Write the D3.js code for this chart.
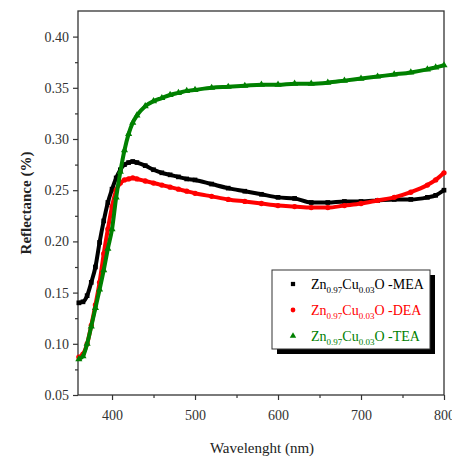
<!DOCTYPE html>
<html>
<head>
<meta charset="utf-8">
<script src="https://cdn.jsdelivr.net/npm/d3@7"></script>
<style>
  body { margin: 0; background: #fff; }
  svg text { font-family: "Liberation Serif", "Times New Roman", Times, "DejaVu Serif", serif; }
</style>
</head>
<body>
<div id="chart"></div>
<script>
// reflectance spectra
var wavelengths = [360,365,370,375,380,385,390,395,400,405,410,415,420,425,430,440,450,460,470,480,490,500,520,540,560,580,600,620,640,660,680,700,720,740,760,780,790,800];
var mea = [0.140,0.141,0.147,0.160,0.175,0.199,0.220,0.238,0.251,0.262,0.270,0.275,0.277,0.278,0.277,0.274,0.270,0.267,0.265,0.263,0.261,0.260,0.256,0.252,0.249,0.246,0.243,0.242,0.238,0.238,0.239,0.239,0.240,0.241,0.241,0.243,0.245,0.250];
var dea = [0.087,0.090,0.100,0.118,0.138,0.160,0.188,0.212,0.234,0.250,0.257,0.260,0.261,0.262,0.261,0.259,0.257,0.255,0.253,0.251,0.249,0.247,0.244,0.241,0.239,0.237,0.235,0.234,0.233,0.233,0.235,0.237,0.240,0.243,0.248,0.255,0.260,0.267];
var tea = [0.085,0.088,0.100,0.117,0.135,0.153,0.172,0.193,0.212,0.243,0.268,0.289,0.305,0.316,0.323,0.332,0.337,0.340,0.343,0.345,0.347,0.348,0.350,0.351,0.352,0.353,0.353,0.354,0.354,0.355,0.357,0.359,0.361,0.363,0.365,0.368,0.370,0.372];
var seriesNames = ["MEA", "DEA", "TEA"];
var seriesColors = ["#000000", "#ff0000", "#008000"];
var yTicks = [0.05,0.10,0.15,0.20,0.25,0.30,0.35,0.40];
var xTicks = [400,500,600,700,800];

var width = 452, height = 459;
var margin = {top: 11, right: 8, bottom: 64, left: 78};
var serif = 'Liberation Serif';

var svg = d3.select('#chart').append('svg')
  .attr('width', width)
  .attr('height', height);

var x = d3.scaleLinear().domain([359, 800]).range([margin.left, width - margin.right]);
var y = d3.scaleLinear().domain([0.05, 0.425]).range([height - margin.bottom, margin.top]);

var axisColor = '#333';

// frame
svg.append('rect')
  .attr('x', x(359)).attr('y', y(0.425))
  .attr('width', x(800) - x(359))
  .attr('height', y(0.05) - y(0.425))
  .attr('fill', 'none')
  .attr('stroke', axisColor)
  .attr('stroke-width', 1.3);

// x axis, minor + major ticks
var xAxisG = svg.append('g')
  .attr('transform', 'translate(0,' + y(0.05) + ')');
xAxisG.call(d3.axisBottom(x).tickValues([450,550,650,750]).tickSize(3).tickFormat(''));
xAxisG.append('g').call(d3.axisBottom(x).tickValues(xTicks).tickSize(5).tickPadding(10).tickFormat(d3.format('d')));

var yAxisG = svg.append('g')
  .attr('transform', 'translate(' + x(359) + ',0)');
yAxisG.call(d3.axisLeft(y).tickValues([0.075,0.125,0.175,0.225,0.275,0.325,0.375]).tickSize(3).tickFormat(''));
yAxisG.append('g').call(d3.axisLeft(y).tickValues(yTicks).tickSize(5).tickPadding(4).tickFormat(d3.format('.2f')));

svg.selectAll('g').attr('font-family', serif);
svg.selectAll('.domain').remove();
svg.selectAll('.tick line').attr('stroke', axisColor).attr('stroke-width', 1.2);
svg.selectAll('.tick text')
  .attr('fill', '#333')
  .attr('font-family', serif)
  .style('font-size', '14px');

// axis titles
svg.append('text')
  .attr('x', (x(359) + x(800)) / 2 + 1)
  .attr('y', 453)
  .attr('text-anchor', 'middle')
  .attr('fill', '#222')
  .attr('font-family', serif)
  .style('font-size', '15px')
  .text('Wavelenght (nm)');

svg.append('text')
  .attr('transform', 'translate(31,' + (y(0.2375)) + ') rotate(-90)')
  .attr('text-anchor', 'middle')
  .attr('fill', '#222')
  .attr('font-family', serif)
  .style('font-size', '15px')
  .style('font-weight', 'bold')
  .text('Reflectance (%)');

var allSeries = [mea, dea, tea];

var line = d3.line()
  .x(function(d, i) { return x(wavelengths[i]); })
  .y(function(d) { return y(d); })
  .curve(d3.curveMonotoneX);

var symbols = [d3.symbolSquare, d3.symbolCircle, d3.symbolTriangle];

[0, 1, 2].forEach(function(k) {
  var vals = allSeries[k];
  svg.append('path')
    .attr('d', line(vals))
    .attr('fill', 'none')
    .attr('stroke', seriesColors[k])
    .attr('stroke-width', 4);
  svg.append('g').selectAll('path')
    .data(vals)
    .enter().append('path')
    .attr('transform', function(d, i) { return 'translate(' + x(wavelengths[i]) + ',' + y(d) + ')'; })
    .attr('d', d3.symbol().type(symbols[k]).size(22))
    .attr('fill', seriesColors[k]);
});

// legend
var lg = svg.append('g');
var lx = 272, ly = 270, lw = 158, lh = 79;
lg.append('rect').attr('x', lx + 5).attr('y', ly + 5).attr('width', lw).attr('height', lh).attr('fill', '#000');
lg.append('rect').attr('x', lx).attr('y', ly).attr('width', lw).attr('height', lh)
  .attr('fill', '#fff').attr('stroke', '#333').attr('stroke-width', 1);

seriesNames.forEach(function(name, k) {
  var ry = ly + 19 + k * 26;
  lg.append('path')
    .attr('transform', 'translate(' + (lx + 21) + ',' + (ry - 5) + ')')
    .attr('d', d3.symbol().type(symbols[k]).size(18))
    .attr('fill', seriesColors[k]);
  var t = lg.append('text')
    .attr('x', lx + 39)
    .attr('y', ry)
    .attr('fill', seriesColors[k])
    .attr('font-family', serif)
    .style('font-size', '14px');
  t.append('tspan').text('Zn');
  t.append('tspan').attr('dy', 4).style('font-size', '9px').text('0.97');
  t.append('tspan').attr('dy', -4).text('Cu');
  t.append('tspan').attr('dy', 4).style('font-size', '9px').text('0.03');
  t.append('tspan').attr('dy', -4).text('O -' + name);
});
</script>
</body>
</html>
